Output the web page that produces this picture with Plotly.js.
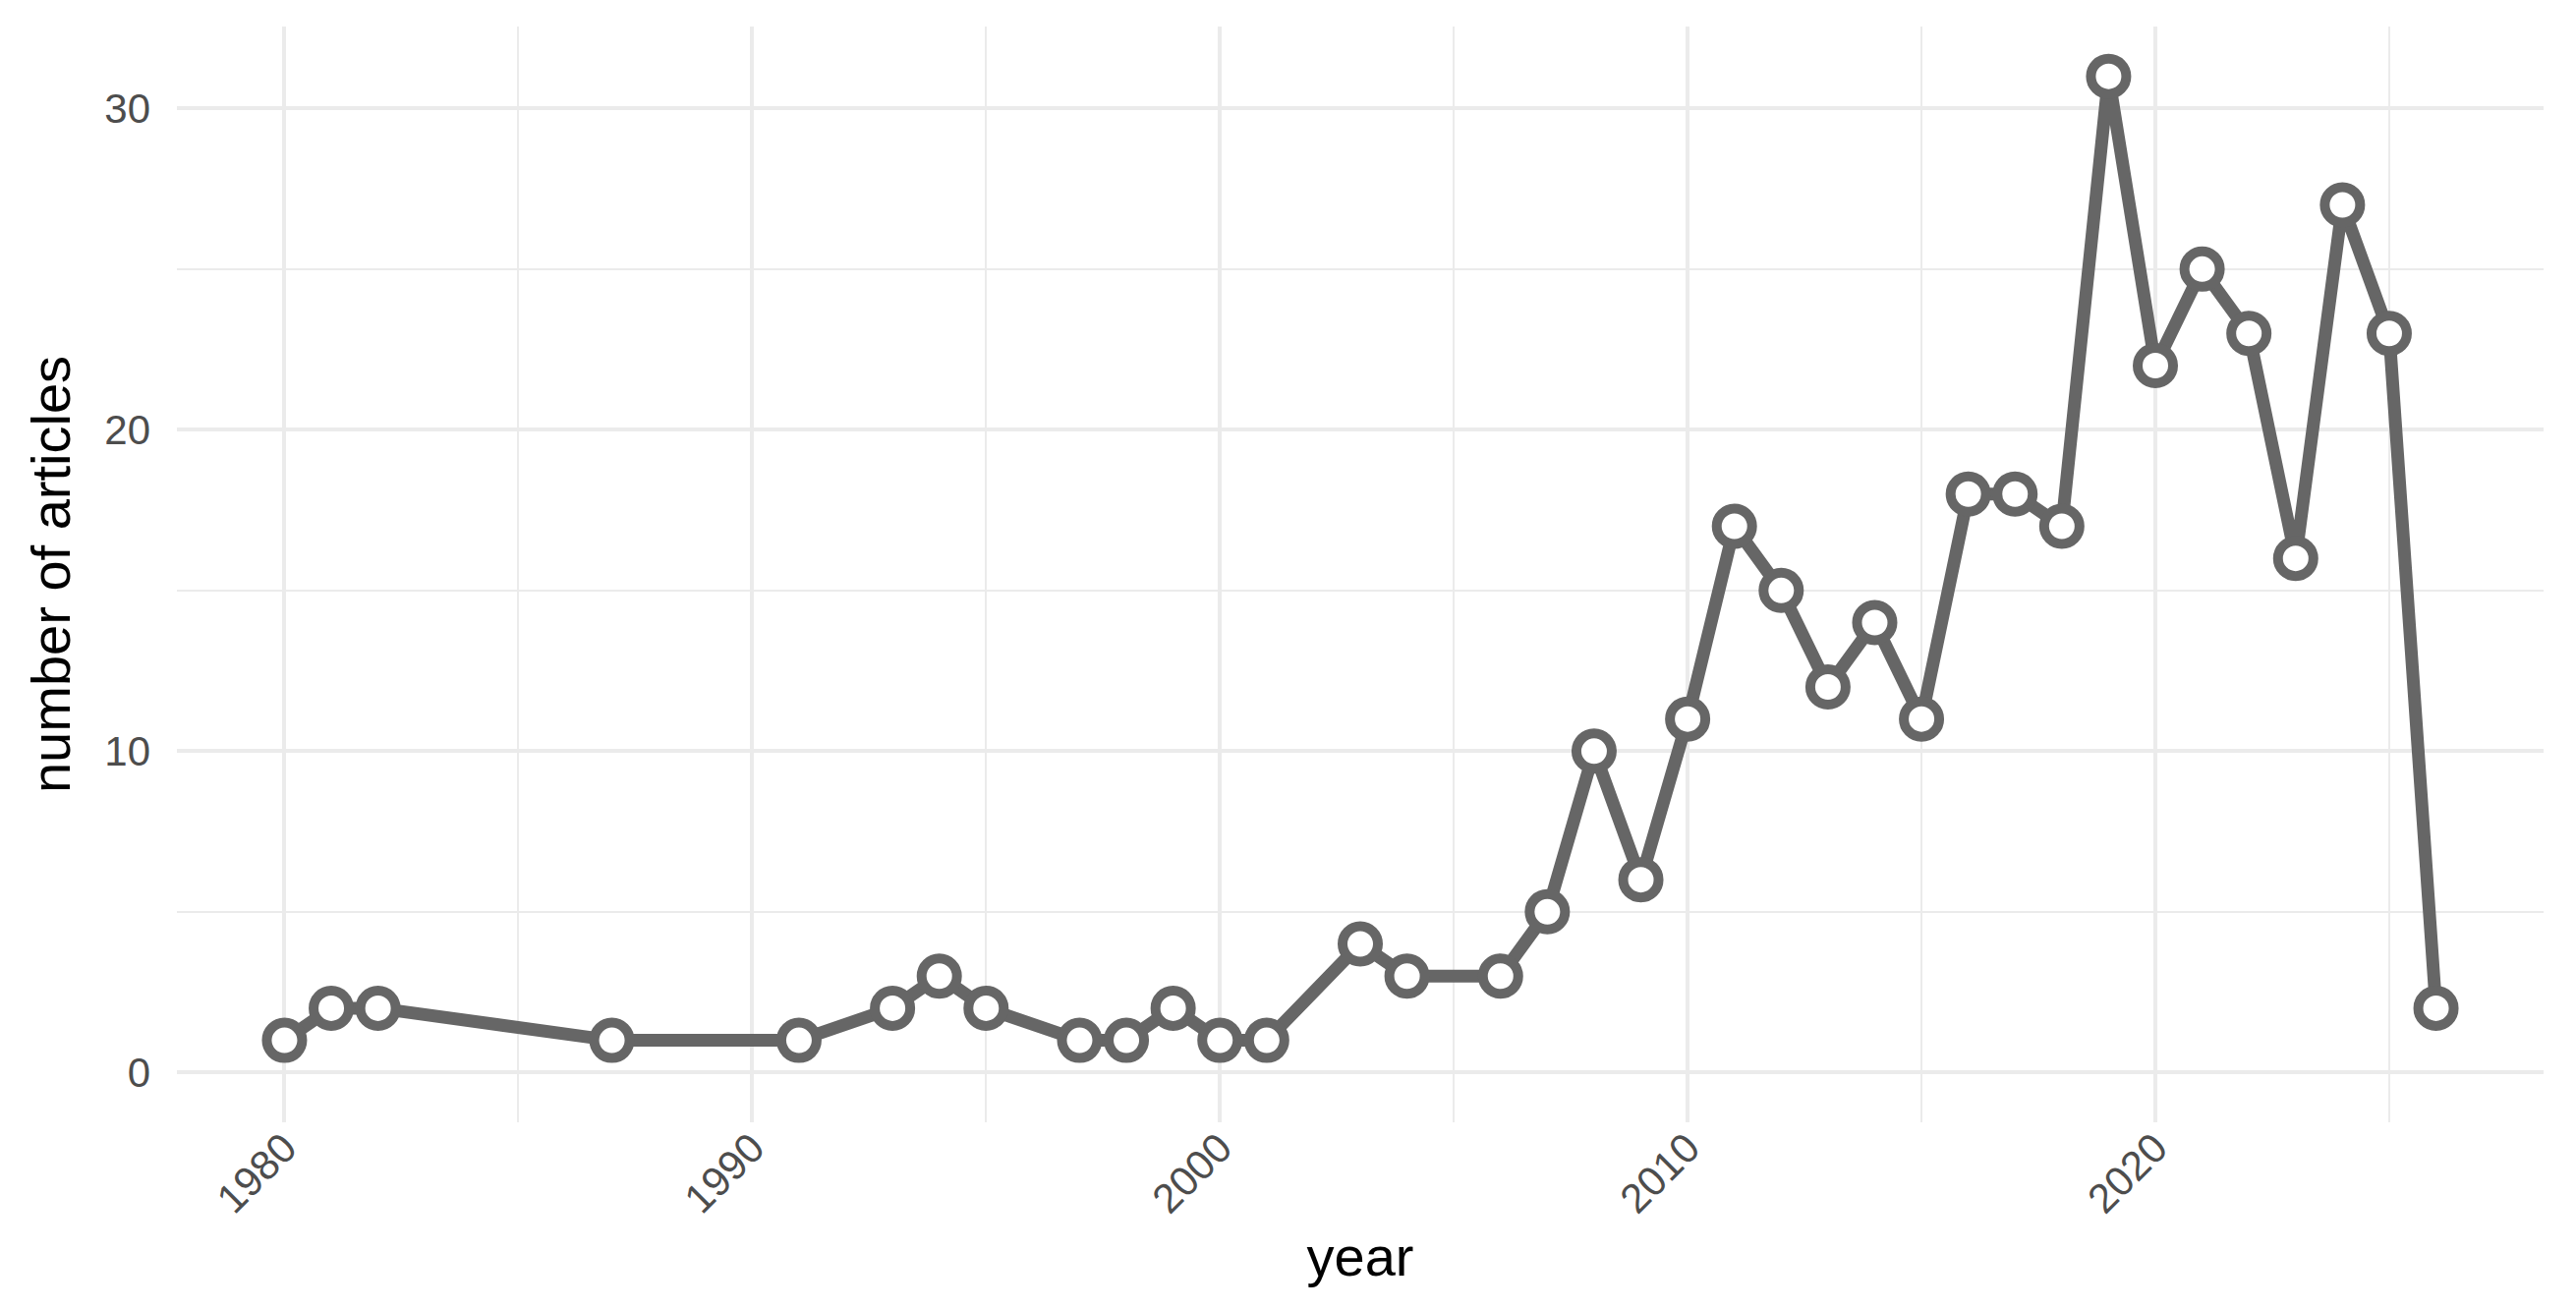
<!DOCTYPE html>
<html>
<head>
<meta charset="utf-8">
<script src="https://cdn.plot.ly/plotly-3.0.1.min.js"></script>
<style>
  html, body { margin: 0; padding: 0; background: #fff; }
  #chart { width: 2621px; height: 1333px; }
</style>
</head>
<body>
<div id="chart"></div>
<script>
// articles per year
var years = [1980, 1981, 1982, 1987, 1991, 1993, 1994, 1995, 1997, 1998, 1999, 2000, 2001,
             2003, 2004, 2006, 2007, 2008, 2009, 2010, 2011, 2012, 2013, 2014, 2015,
             2016, 2017, 2018, 2019, 2020, 2021, 2022, 2023, 2024, 2025, 2026];
var articles = [1, 2, 2, 1, 1, 2, 3, 2, 1, 1, 2, 1, 1,
                4, 3, 3, 5, 10, 6, 11, 17, 15, 12, 14, 11,
                18, 18, 17, 31, 22, 25, 23, 16, 27, 23, 2];

var grey = '#666666';
var gridCol = '#EBEBEB';

var trace = {
    x: years,
    y: articles,
    type: 'scatter',
    mode: 'lines+markers',
    line: {color: grey, width: 13},
    marker: {symbol: 'circle', size: 36, color: '#ffffff', line: {color: grey, width: 10}},
    hoverinfo: 'x+y'
};

var layout = {
    width: 2621,
    height: 1333,
    margin: {l: 180, r: 33, t: 27, b: 191},
    paper_bgcolor: '#ffffff',
    plot_bgcolor: '#ffffff',
    showlegend: false,
    font: {family: 'Liberation Sans, Arial, sans-serif', color: '#4D4D4D'},
    xaxis: {
        range: [1977.7, 2028.3],
        tick0: 1980, dtick: 10,
        tickangle: -45,
        tickfont: {size: 42, color: '#4D4D4D'},
        showgrid: true, gridcolor: gridCol, gridwidth: 3.5,
        minor: {dtick: 5, showgrid: true, gridcolor: gridCol, gridwidth: 1.8},
        zeroline: false, showline: false, ticks: '',
        ticklabelstandoff: -8,
        title: {text: 'year', font: {size: 56, color: '#000000'}, standoff: 16}
    },
    yaxis: {
        range: [-1.55, 32.55],
        tick0: 0, dtick: 10,
        tickfont: {size: 42, color: '#4D4D4D'},
        showgrid: true, gridcolor: gridCol, gridwidth: 3.5,
        minor: {dtick: 5, showgrid: true, gridcolor: gridCol, gridwidth: 1.8},
        zeroline: false, showline: false, ticks: '',
        ticklabelstandoff: 26,
        title: {text: 'number of articles', font: {size: 56, color: '#000000'}, standoff: 16}
    }
};

Plotly.newPlot('chart', [trace], layout, {displayModeBar: false, responsive: false});
</script>
</body>
</html>
